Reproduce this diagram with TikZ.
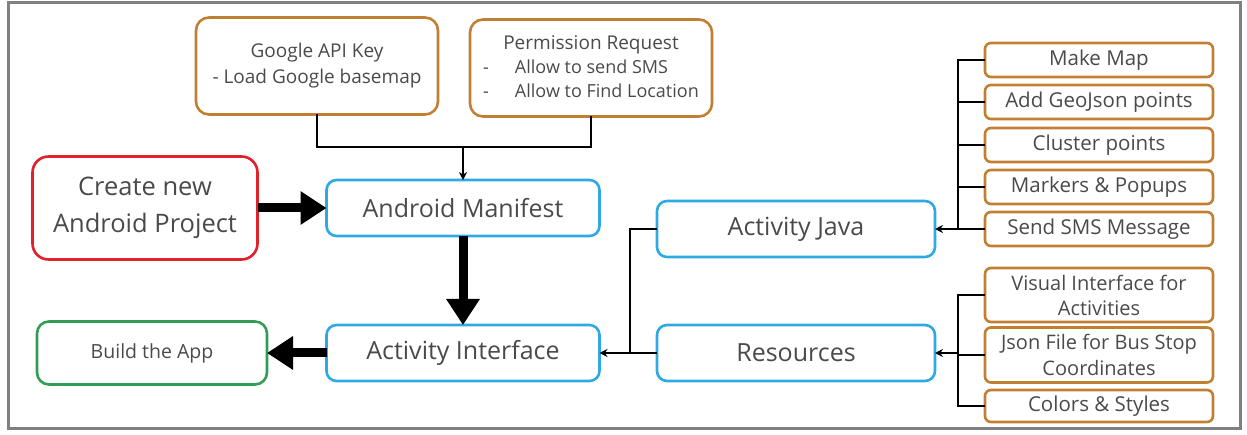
\documentclass[tikz,border=0pt]{standalone}
\usepackage{fontspec}
\setmainfont{Open Sans}
\usetikzlibrary{arrows.meta}
\definecolor{boxorange}{HTML}{C27F32}
\definecolor{boxblue}{HTML}{2FA9E1}
\definecolor{boxred}{HTML}{E2222B}
\definecolor{boxgreen}{HTML}{2F9D55}
\definecolor{txtgray}{HTML}{4A4A4A}
\begin{document}
\begin{tikzpicture}[x=1pt,y=-1pt,inner sep=0pt,outer sep=0pt,
base/.style={draw,line width=2.6pt,align=center,text=txtgray},
topbox/.style={base,draw=boxorange,rounded corners=13pt,minimum width=242pt,minimum height=97pt,font=\fontsize{19}{26}\selectfont},
mainbox/.style={base,draw=boxblue,rounded corners=10pt,minimum width=273pt,minimum height=56pt,font=\fontsize{25}{30}\selectfont},
subbox/.style={base,draw=boxorange,rounded corners=6pt,minimum width=228pt,minimum height=34pt,font=\fontsize{20.5}{24}\selectfont},
bigarrow/.style={line width=9pt,-{Triangle[width=32pt,length=26pt]}},
link/.style={line width=2.4pt},
thinarrow/.style={link,-{Stealth[length=8pt,width=8pt]}}]
\useasboundingbox (0,0) rectangle (1247,435);
\draw[gray,line width=3pt] (8,3) rectangle (1240,428);

% inputs of the manifest
\draw (317,66) node[topbox] (gkey) {Google API Key\\- Load Google basemap};
\draw (591,68) node[topbox] (perm) {\begin{tabular}{@{}l@{\hspace{26pt}}l@{}}\multicolumn{2}{c}{Permission Request}\\[-2pt]
{\fontsize{18}{22}\selectfont -}&{\fontsize{18}{22}\selectfont Allow to send SMS}\\[-2pt]
{\fontsize{18}{22}\selectfont -}&{\fontsize{18}{22}\selectfont Allow to Find Location}\end{tabular}};

% main flow
\draw (145,208) node[base,draw=boxred,rounded corners=16pt,minimum width=225pt,minimum height=103pt,font=\fontsize{25.5}{37}\selectfont] (create) {Create new\\Android Project};
\draw (463,208) node[mainbox] (manifest) {Android Manifest};
\draw (463,353) node[mainbox] (iface) {Activity Interface};
\draw (152,353) node[base,draw=boxgreen,rounded corners=12pt,minimum width=230pt,minimum height=63pt,font=\fontsize{19.5}{24}\selectfont] (build) {Build the App};
\draw (796,229) node[mainbox,minimum width=278pt] (java) {Activity Java};
\draw (796,353) node[mainbox,minimum width=278pt] (res) {Resources};

% java parts
\draw (1099,60) node[subbox] (map) {Make Map};
\draw (1099,102) node[subbox] (geo) {Add GeoJson points};
\draw (1099,145) node[subbox] (cluster) {Cluster points};
\draw (1099,187) node[subbox] (markers) {Markers \& Popups};
\draw (1099,229) node[subbox] (sms) {Send SMS Message};

% resource parts
\draw (1099,295) node[subbox,minimum height=54pt,font=\fontsize{20}{25}\selectfont] (vis) {Visual Interface for\\Activities};
\draw (1099,355) node[subbox,minimum height=55pt,font=\fontsize{20}{26}\selectfont] (json) {Json File for Bus Stop\\Coordinates};
\draw (1099,406) node[subbox,minimum height=32pt] (colors) {Colors \& Styles};

\coordinate (topjoin) at (463,147);
\coordinate (javabus) at (958,229);
\coordinate (resbus) at (958,353);
\coordinate (ifbus) at (630,353);

\draw[link] (gkey.south) |- (topjoin) -| (perm.south);
\draw[thinarrow] (topjoin) -- (manifest.north);
\draw[bigarrow] (create) -- (manifest);
\draw[bigarrow] (manifest) -- (iface);
\draw[bigarrow] (iface) -- (build);

\foreach \n in {map,geo,cluster,markers,sms}
  \draw[link] (\n.west) -| (javabus);
\draw[thinarrow] (javabus) -- (java.east);
\foreach \n in {vis,json,colors}
  \draw[link] (\n.west) -| (resbus);
\draw[thinarrow] (resbus) -- (res.east);

\draw[link] (java.west) -| (ifbus);
\draw[link] (res.west) -- (ifbus);
\draw[thinarrow] (ifbus) -- (iface.east);
\end{tikzpicture}
\end{document}
